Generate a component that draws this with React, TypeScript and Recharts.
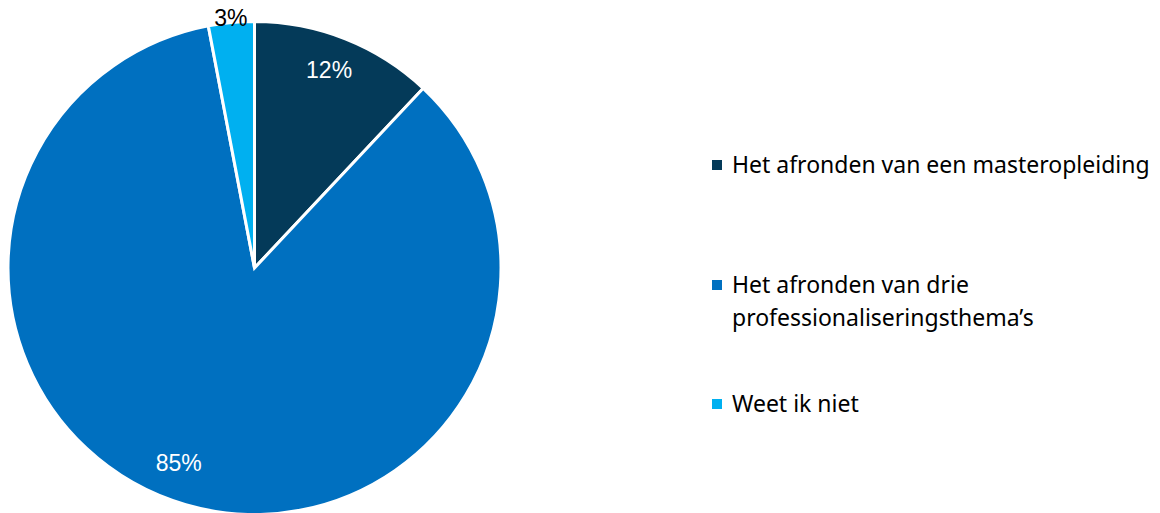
import { PieChart, Pie, Cell, Legend } from 'recharts'

const categories = [
  'Het afronden van een masteropleiding',
  'Het afronden van drie professionaliseringsthema’s',
  'Weet ik niet',
]
const values = [12, 85, 3]
const labels = ['12%', '85%', '3%']
const colors = ['#043A59', '#0070C0', '#00B0F0']

// label tweaks per slice: radius factor, angle shift, text colour
const labelPos = [
  { rf: 0.86, da: 1, fill: '#ffffff' },
  { rf: 0.85, da: -5, fill: '#ffffff' },
  { rf: 1.02, da: 0, fill: '#000000' },
]
const legendGaps = [87, 53, 0]

const data = categories.map((name, i) => ({ name, value: values[i] }))

const RAD = Math.PI / 180

function renderLabel(props: any) {
  const { cx, cy, midAngle, outerRadius, index } = props
  const p = labelPos[index]
  const a = (midAngle + p.da) * RAD
  const r = outerRadius * p.rf
  const x = cx + r * Math.cos(a)
  const y = cy - r * Math.sin(a)
  return (
    <text
      x={x}
      y={y}
      fill={p.fill}
      textAnchor="middle"
      dominantBaseline="central"
      fontFamily="'Liberation Sans', Arial, sans-serif"
      fontSize={23}
    >
      {labels[index]}
    </text>
  )
}

function renderLegend() {
  return (
    <div style={{ fontFamily: "'Noto Sans', sans-serif", fontSize: 23, color: '#000', lineHeight: '33px' }}>
      {categories.map((c, i) => (
        <div key={c} style={{ display: 'flex', alignItems: 'flex-start', marginBottom: legendGaps[i] }}>
          <span
            style={{
              display: 'inline-block',
              width: 10,
              height: 10,
              background: colors[i],
              marginTop: 12,
              marginRight: 10,
              flex: '0 0 auto',
            }}
          />
          <span>{c}</span>
        </div>
      ))}
    </div>
  )
}

export default function App() {
  return (
    <div style={{ position: 'absolute', left: 0, top: 0, width: 1160, height: 513, background: '#fff' }}>
      <PieChart width={1160} height={513}>
        <Pie
          data={data}
          dataKey="value"
          nameKey="name"
          cx={249.5}
          cy={263}
          outerRadius={246.5}
          startAngle={90}
          endAngle={-270}
          stroke="#ffffff"
          strokeWidth={3}
          label={renderLabel}
          labelLine={false}
          isAnimationActive={false}
        >
          {data.map((d, i) => (
            <Cell key={d.name} fill={colors[i]} />
          ))}
        </Pie>
        <Legend
          content={renderLegend}
          wrapperStyle={{ position: 'absolute', left: 712, top: 148, width: 448, bottom: 'auto' }}
        />
      </PieChart>
    </div>
  )
}
